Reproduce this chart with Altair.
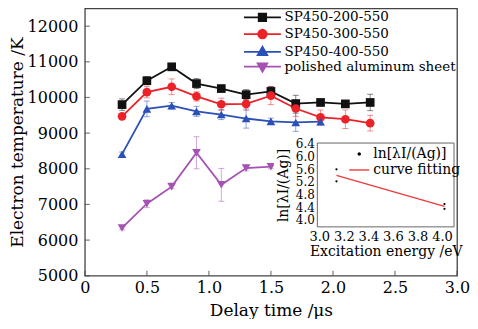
import altair as alt
import pandas as pd

# ---------------- data ----------------
series = ["SP450-200-550", "SP450-300-550", "SP450-400-550", "polished aluminum sheet"]
colors = ["#111111", "#ec2229", "#2b50b8", "#a553b2"]
shapes = ["square", "circle", "triangle-up", "triangle-down"]

delay = [0.3, 0.5, 0.7, 0.9, 1.1, 1.3, 1.5, 1.7, 1.9, 2.1, 2.3]
t200 = [9800, 10470, 10860, 10390, 10250, 10080, 10170, 9830, 9860, 9820, 9860]
e200 = [160, 110, 60, 140, 80, 140, 140, 230, 80, 80, 230]
t300 = [9470, 10150, 10300, 10030, 9810, 9820, 10050, 9690, 9440, 9390, 9280]
e300 = [80, 160, 220, 130, 170, 180, 250, 220, 210, 260, 220]
t400 = [8410, 9680, 9770, 9610, 9520, 9410, 9330, 9300, 9320]
e400 = [60, 220, 90, 140, 140, 270, 90, 250, 90]
tpol = [6340, 7020, 7500, 8450, 7550, 8020, 8060]
epol = [50, 110, 60, 450, 460, 80, 60]

x_ticks = [0, 0.5, 1.0, 1.5, 2.0, 2.5, 3.0]
y_ticks = [5000, 6000, 7000, 8000, 9000, 10000, 11000, 12000]

# inset data
inset_labels = ["ln[λI/(Ag)]", "curve fitting"]
ex_pts = [3.14, 3.14, 4.02, 4.02]
ln_pts = [5.60, 5.22, 4.50, 4.35]
ex_fit = [3.14, 4.02]
ln_fit = [5.41, 4.43]
ix_ticks = [3.0, 3.2, 3.4, 3.6, 3.8, 4.0]
iy_ticks = [4.0, 4.4, 4.8, 5.2, 5.6, 6.0, 6.4]

# ---------------- layout constants ----------------
W, H = 373, 268
FONT = "DejaVu Serif"
inset_xdom = [2.984, 4.098]
inset_ydom = [3.78, 6.43]
inset_xrange = [233, 370]
inset_yrange = [219, 135]
bg_x = [2.63, 4.11]
bg_y = [2.58, 6.55]

rows = []
for name, ts, es in zip(series, [t200, t300, t400, tpol], [e200, e300, e400, epol]):
    for xv, tv, ev in zip(delay, ts, es):
        rows.append({"series": name, "x": xv, "t": tv, "lo": tv - ev, "hi": tv + ev})
df = pd.DataFrame(rows)

xsc = alt.Scale(domain=[0, 3.0], nice=False, zero=False)
ysc = alt.Scale(domain=[5000, 12500], nice=False, zero=False)
xaxis = alt.Axis(values=x_ticks, title="Delay time /μs", grid=False, domain=False, ticks=False,
                 tickSize=0, labelPadding=4, titlePadding=7, labelFlush=False, labelOverlap=False,
                 labelExpr="datum.value == 0 ? '0' : format(datum.value, '.1f')")
yaxis = alt.Axis(values=y_ticks, title="Electron temperature /K", grid=False, domain=False, ticks=False,
                 tickSize=0, labelPadding=7, titlePadding=1, format="d", labelOverlap=False)

csc = alt.Scale(domain=series, range=colors)

X = alt.X("x:Q", scale=xsc, axis=xaxis)
Y = alt.Y("t:Q", scale=ysc, axis=yaxis)

errs = alt.Chart(df).mark_errorbar(ticks={"size": 6}, thickness=1, opacity=0.5).encode(
    x=X, y=alt.Y("lo:Q", scale=ysc, axis=yaxis), y2="hi:Q",
    color=alt.Color("series:N", scale=csc, legend=None))

lines = alt.Chart(df).mark_line(strokeWidth=1.8).encode(
    x=X, y=Y, color=alt.Color("series:N", scale=csc, legend=None),
    detail="series:N")

pts = alt.Chart(df).mark_point(filled=True, size=76, opacity=1).encode(
    x=X, y=Y, color=alt.Color("series:N", scale=csc, legend=None),
    shape=alt.Shape("series:N", scale=alt.Scale(domain=series, range=shapes), legend=None))

# legend symbols: a line with the marker on it (unit = 6 px)
leg_paths = [
    "M-3.08,0H3.08M-0.62,-0.62H0.62V0.62H-0.62Z",
    "M-3.08,0H3.08M-0.72,0A0.72,0.72 0 1,0 0.72,0A0.72,0.72 0 1,0 -0.72,0Z",
    "M-3.08,0H3.08M0,-0.85L0.8,0.55L-0.8,0.55Z",
    "M-3.08,0H3.08M0,0.85L0.8,-0.55L-0.8,-0.55Z",
]
main_leg = alt.Legend(title=None, orient="none", legendX=171, legendY=2, symbolSize=144,
                      symbolStrokeWidth=1.8, symbolOpacity=1, labelFont=FONT, labelFontSize=13.5,
                      labelColor="black", labelOffset=15, rowPadding=0.8, padding=0, labelLimit=400,
                      columns=1)
legend_layer = alt.Chart(df).mark_point(opacity=0, strokeWidth=1.8).encode(
    x=X, y=Y,
    fill=alt.Fill("series:N", scale=csc, legend=main_leg),
    stroke=alt.Stroke("series:N", scale=csc, legend=main_leg),
    shape=alt.Shape("series:N", scale=alt.Scale(domain=series, range=leg_paths), legend=main_leg))

ytk = alt.Chart(pd.DataFrame({"t": y_ticks})).mark_tick(orient="horizontal", size=5, thickness=1.2,
                                                         color="#444").encode(
    y=Y, x=alt.value(2.5))
xtk = alt.Chart(pd.DataFrame({"x": x_ticks})).mark_tick(orient="vertical", size=5, thickness=1.2,
                                                         color="#444").encode(
    x=X, y=alt.value(H - 2.5))

main = alt.layer(errs, lines, pts, legend_layer, ytk, xtk).resolve_scale(
    color="independent", shape="independent", stroke="independent", fill="independent")

# ---------------- inset ----------------
ixsc = alt.Scale(domain=inset_xdom, range=inset_xrange, nice=False, zero=False)
iysc = alt.Scale(domain=inset_ydom, range=inset_yrange, nice=False, zero=False)
ixaxis = alt.Axis(orient="bottom", offset=-(H - inset_yrange[0]), values=ix_ticks, format=".1f",
                  title="Excitation energy /eV", grid=False, domain=False, ticks=False, tickSize=0,
                  labelFontSize=13, titleFontSize=14, labelPadding=4, titlePadding=1,
                  labelFlush=False, labelOverlap=False, zindex=2)
iyaxis = alt.Axis(orient="left", offset=-inset_xrange[0], values=iy_ticks, format=".1f",
                  title="ln[λI/(Ag)]", grid=False, domain=False, ticks=False, tickSize=0,
                  labelFontSize=12, titleFontSize=14, labelPadding=3, titlePadding=5,
                  labelOverlap=False, zindex=2)
IX = alt.X("ex:Q", scale=ixsc, axis=ixaxis)
IY = alt.Y("ln:Q", scale=iysc, axis=iyaxis)

bg = alt.Chart(pd.DataFrame({"ex": [bg_x[0]], "ex2": [bg_x[1]], "ln": [bg_y[0]], "ln2": [bg_y[1]]})
               ).mark_rect(color="white").encode(x=IX, x2="ex2:Q", y=IY, y2="ln2:Q")
frame = alt.Chart(pd.DataFrame({"ex": [inset_xdom[0]], "ex2": [inset_xdom[1]],
                                "ln": [inset_ydom[0]], "ln2": [inset_ydom[1]]})
                  ).mark_rect(fillOpacity=0, stroke="#666", strokeWidth=1).encode(
    x=IX, x2="ex2:Q", y=IY, y2="ln2:Q")
ipts = alt.Chart(pd.DataFrame({"ex": ex_pts, "ln": ln_pts})).mark_point(
    filled=True, size=5, color="black", opacity=1).encode(x=IX, y=IY)
ifit = alt.Chart(pd.DataFrame({"ex": ex_fit, "ln": ln_fit})).mark_line(
    color="#ee3a3a", strokeWidth=1.3).encode(x=IX, y=IY)

isc = alt.Scale(domain=inset_labels, range=["black", "#ee3a3a"])
# unit = 5 px
dot_path = "M-0.2,0A0.2,0.2 0 1,0 0.2,0A0.2,0.2 0 1,0 -0.2,0Z"
line_path = "M-2,0H2"
inset_leg = alt.Legend(title=None, orient="none", legendX=268, legendY=139, symbolSize=100,
                       symbolStrokeWidth=1.4, symbolOpacity=1, labelFont=FONT, labelFontSize=14,
                       labelColor="black", labelOffset=7, rowPadding=2, padding=0, labelLimit=400,
                       columns=1)
ileg = alt.Chart(pd.DataFrame({"ex": ex_fit, "ln": ln_fit, "lab": inset_labels})).mark_point(
    opacity=0, strokeWidth=1.4).encode(
    x=IX, y=IY,
    fill=alt.Fill("lab:N", scale=isc, legend=inset_leg),
    stroke=alt.Stroke("lab:N", scale=isc, legend=inset_leg),
    shape=alt.Shape("lab:N", scale=alt.Scale(domain=inset_labels, range=[dot_path, line_path]),
                    legend=inset_leg))

inset = alt.layer(bg, frame, ifit, ipts, ileg)

chart = alt.layer(main, inset).resolve_scale(
    x="independent", y="independent", color="independent", shape="independent",
    stroke="independent", fill="independent"
).properties(
    width=W, height=H, padding={"left": 0, "top": 0, "right": 0, "bottom": 0}, background="white"
).configure(font=FONT).configure_view(stroke="#444", strokeWidth=1.3).configure_axis(
    labelFont=FONT, titleFont=FONT, labelFontSize=16, titleFontSize=17, labelColor="black",
    titleColor="black", titleFontWeight="normal"
).configure_legend(labelFont=FONT)

chart.save("out.html", embed_options={"renderer": "svg", "actions": False})
